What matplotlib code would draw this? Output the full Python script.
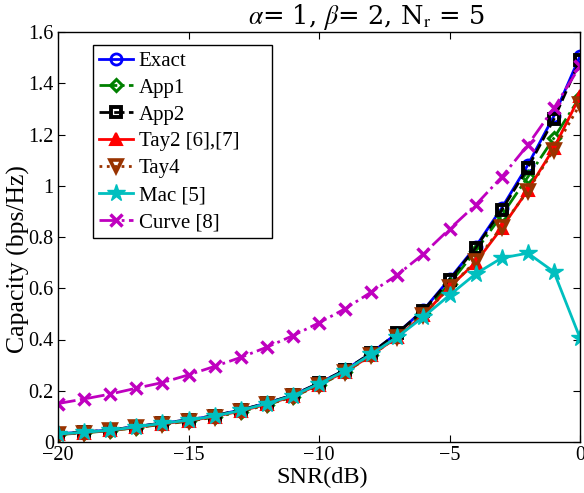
import numpy as np
import matplotlib
matplotlib.use('Agg')
import matplotlib.pyplot as plt
from matplotlib.patches import Rectangle

plt.rcParams['font.family'] = ['Liberation Serif', 'DejaVu Serif']
plt.rcParams['mathtext.fontset'] = 'stix'

# SNR axis (dB)
snr = np.arange(-20, 1)

exact = [0.032, 0.039, 0.047, 0.060, 0.074, 0.086, 0.103, 0.125, 0.152, 0.183, 0.230,
         0.281, 0.347, 0.425, 0.515, 0.636, 0.762, 0.913, 1.081, 1.272, 1.506]
app1 = [0.029, 0.036, 0.044, 0.056, 0.069, 0.081, 0.097, 0.118, 0.145, 0.176, 0.222,
        0.272, 0.338, 0.418, 0.505, 0.618, 0.745, 0.885, 1.034, 1.186, 1.347]
app2 = [0.032, 0.039, 0.047, 0.060, 0.074, 0.086, 0.103, 0.125, 0.152, 0.183, 0.230,
        0.281, 0.347, 0.425, 0.513, 0.632, 0.757, 0.905, 1.070, 1.260, 1.490]
tay2 = [0.030, 0.037, 0.045, 0.057, 0.071, 0.083, 0.099, 0.121, 0.147, 0.178, 0.224,
        0.274, 0.338, 0.410, 0.495, 0.605, 0.700, 0.835, 0.983, 1.147, 1.350]
tay4 = [0.030, 0.037, 0.045, 0.057, 0.071, 0.083, 0.099, 0.121, 0.147, 0.178, 0.224,
        0.274, 0.338, 0.410, 0.495, 0.603, 0.705, 0.840, 0.980, 1.140, 1.318]
mac = [0.031, 0.038, 0.046, 0.059, 0.073, 0.085, 0.101, 0.123, 0.150, 0.181, 0.227,
       0.278, 0.343, 0.410, 0.488, 0.573, 0.656, 0.718, 0.737, 0.664, 0.406]
curve = [0.150, 0.168, 0.187, 0.210, 0.232, 0.262, 0.295, 0.330, 0.370, 0.415, 0.465,
         0.520, 0.585, 0.652, 0.734, 0.831, 0.925, 1.034, 1.159, 1.303, 1.467]

labels = ['Exact', 'App1', 'App2', 'Tay2 [6],[7]', 'Tay4', 'Mac [5]', 'Curve [8]']
xticks = [-20, -15, -10, -5, 0]
xticklabels = ['\u221220', '\u221215', '\u221210', '\u22125', '0']
yticks = [0, 0.2, 0.4, 0.6, 0.8, 1.0, 1.2, 1.4, 1.6]
yticklabels = ['0', '0.2', '0.4', '0.6', '0.8', '1', '1.2', '1.4', '1.6']

W, H = 584, 493
fig = plt.figure(figsize=(W/100, H/100), dpi=100)
ax = fig.add_axes([58/W, 51/H, 522/W, 410/H])

lw = 2.0
brown = (0.6, 0.2, 0.0)
ax.plot(snr, exact, color='blue', ls='-', lw=lw, marker='o', ms=8, mfc='none', mew=2, label=labels[0])
ax.plot(snr, app1, color=(0, 0.5, 0), ls='-.', lw=lw, marker='D', ms=6.5, mfc='none', mew=2.2, label=labels[1])
ax.plot(snr, app2, color='black', ls='--', lw=lw, marker='s', ms=6.5, mfc='none', mew=2.8, label=labels[2])
ax.plot(snr, tay2, color='red', ls='-', lw=lw, marker='^', ms=9, mfc='red', mew=1.5, label=labels[3])
ax.plot(snr, tay4, color=brown, ls=':', lw=lw, marker='v', ms=8.5, mfc='none', mew=2.6, label=labels[4])
ax.plot(snr, mac, color=(0, 0.75, 0.75), ls='-', lw=lw, marker='*', ms=13, label=labels[5])
ax.plot(snr, curve, color=(0.75, 0, 0.75), ls='-.', lw=lw, marker='x', ms=8, mew=2.5, label=labels[6])

ax.set_xlim(-20, 0)
ax.set_ylim(0, 1.6)
ax.set_xticks(xticks)
ax.set_xticklabels(xticklabels)
ax.set_yticks(yticks)
ax.set_yticklabels(yticklabels)
ax.tick_params(direction='in', top=True, right=True, labelsize=14.5, length=5, pad=3)
for s in ax.spines.values():
    s.set_linewidth(1.0)

fig.text(322/W, 1 - 477/H, 'SNR(dB)', ha='center', va='center', fontsize=17.5)
fig.text(18/W, 1 - 259/H, 'Capacity (bps/Hz)', ha='center', va='center', rotation=90, fontsize=18.5)
fig.text(366/W, 1 - 17/H, r'$\alpha$= 1, $\beta$= 2, N$_{\mathrm{r}}$ = 5',
         ha='center', va='center', fontsize=18.5, family='DejaVu Serif')

# legend box is wider than its text in the original, so draw the frame by hand
leg = ax.legend(loc='upper left', bbox_to_anchor=((93-58)/522, 1 - 13/410), fontsize=15,
                frameon=False, handlelength=1.6, borderpad=0.3, labelspacing=0.35,
                handletextpad=0.3, borderaxespad=0)
leg.set_zorder(6)
box = Rectangle((93/W, 1 - 238/H), (272-93)/W, (238-45)/H, transform=fig.transFigure,
                facecolor='white', edgecolor='black', lw=1.0, zorder=5, clip_on=False)
ax.add_patch(box)

fig.savefig('out.png', dpi=100)
